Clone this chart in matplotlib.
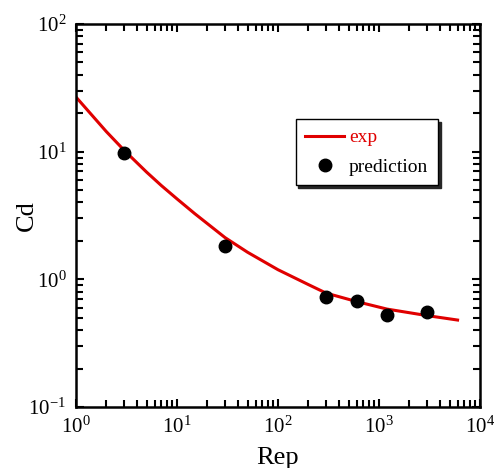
import matplotlib
matplotlib.use("Agg")
import matplotlib.pyplot as plt

# ---- data ------------------------------------------------------------------
exp_re = [1, 2, 3, 5, 7, 10, 15, 30, 50, 100, 200, 300, 600, 1200, 3000, 6000]
exp_cd = [26.8, 14.35, 10.25, 6.92, 5.43, 4.27, 3.27, 2.12, 1.63, 1.19, 0.91,
          0.78, 0.67, 0.585, 0.52, 0.48]

pred_re = [3, 30, 300, 600, 1200, 3000]
pred_cd = [9.8, 1.83, 0.73, 0.68, 0.53, 0.55]

plt.rcParams["font.family"] = ["Liberation Serif", "DejaVu Serif"]
plt.rcParams["mathtext.fontset"] = "custom"
plt.rcParams["mathtext.rm"] = "Liberation Serif"
plt.rcParams["mathtext.it"] = "Liberation Serif:italic"
plt.rcParams["axes.unicode_minus"] = False

fig = plt.figure(figsize=(4.94, 4.68), dpi=100)
ax = fig.add_axes([0.1538, 0.1303, 0.8178, 0.8184])

ax.plot(exp_re, exp_cd, color="#e00000", lw=2.2, label="exp", zorder=2)
ax.plot(pred_re, pred_cd, "o", color="black", ms=9, label="prediction", zorder=3)

ax.set_xscale("log")
ax.set_yscale("log")
ax.set_xlim(1, 1e4)
ax.set_ylim(0.1, 100)

for s in ax.spines.values():
    s.set_linewidth(1.8)
ax.tick_params(which="both", direction="in", top=True, right=True, width=1.5)
ax.tick_params(which="major", length=6, labelsize=15, pad=7)
ax.tick_params(which="minor", length=5)

ax.set_xlabel("Rep", fontsize=19)
ax.set_ylabel("Cd", fontsize=19)
ax.xaxis.set_label_coords(0.5, -0.105)
ax.yaxis.set_label_coords(-0.095, 0.5)

leg = ax.legend(loc="upper right", bbox_to_anchor=(0.896, 0.752), borderaxespad=0,
                fontsize=14, fancybox=False,
                shadow={"color": "0.15", "alpha": 1},
                framealpha=1, edgecolor="black", handlelength=2.0,
                handletextpad=0.25, labelspacing=0.6, borderpad=0.5)
leg.get_frame().set_linewidth(1.0)
leg.get_texts()[0].set_color("#e00000")

fig.savefig("out.png", dpi=100)
